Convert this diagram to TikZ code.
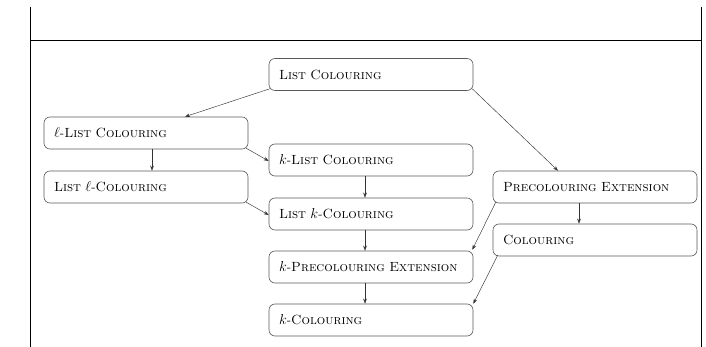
\documentclass[tikz,border=0pt]{standalone}
\usepackage{amsmath,amssymb}
\usepackage{fontspec}
\usepackage{tikz}
\usetikzlibrary{positioning,arrows.meta}

\tikzset{
  prob/.style={draw=black!65,line width=0.6pt,rounded corners=6pt,
    minimum height=32pt,text width=184pt,inner xsep=10pt,align=left,
    font=\fontsize{13.3}{15}\selectfont},
  arr/.style={-{Stealth[length=5pt,width=3.6pt]},draw=black!80,line width=0.45pt}
}

\begin{document}
\begin{tikzpicture}[x=1pt,y=-1pt]
  \useasboundingbox (0,0) rectangle (706,347);
  % frame
  \draw[line width=0.9pt] (30.7,7) -- (30.7,347);
  \draw[line width=0.9pt] (701,7) -- (701,347);
  \draw[line width=0.9pt] (30.7,40.7) -- (701,40.7);
  % problems
  \node[prob] (lc)     at (371,74.5) {\textsc{List Colouring}};
  \node[prob] (ell)    at (146,133)  {$\ell$-\textsc{List Colouring}};
  \node[prob] (listl)  at (146,187)  {\textsc{List} $\ell$-\textsc{Colouring}};
  \node[prob] (klc)    at (371,160)  {$k$-\textsc{List Colouring}};
  \node[prob] (listk)  at (371,214)  {\textsc{List} $k$-\textsc{Colouring}};
  \node[prob] (kpe)    at (371,267)  {\mbox{$k$-\textsc{Precolouring Extension}}};
  \node[prob] (kcol)   at (371,320)  {$k$-\textsc{Colouring}};
  \node[prob] (pe)     at (595,187)  {\textsc{Precolouring Extension}};
  \node[prob] (col)    at (595,240)  {\textsc{Colouring}};
  % reductions
  \draw[arr] ([xshift=1pt,yshift=2pt]lc.south west) -- ([xshift=39pt]ell.north);
  \draw[arr] ([xshift=-1pt,yshift=2pt]lc.south east) -- ([xshift=-37pt]pe.north);
  \draw[arr] ([xshift=6pt]ell.south) -- ([xshift=6pt]listl.north);
  \draw[arr] ([xshift=-2pt,yshift=1pt]ell.south east) -- ([yshift=-1pt]klc.west);
  \draw[arr] ([xshift=-2pt,yshift=1pt]listl.south east) -- ([yshift=-1pt]listk.west);
  \draw[arr] ([xshift=-6pt]klc.south) -- ([xshift=-6pt]listk.north);
  \draw[arr] ([xshift=-6pt]listk.south) -- ([xshift=-6pt]kpe.north);
  \draw[arr] ([xshift=-6pt]kpe.south) -- ([xshift=-6pt]kcol.north);
  \draw[arr] ([xshift=-16pt]pe.south) -- ([xshift=-16pt]col.north);
  \draw[arr] ([xshift=3pt,yshift=1pt]pe.south west) -- ([xshift=-1pt,yshift=1pt]kpe.north east);
  \draw[arr] ([xshift=5pt,yshift=1pt]col.south west) -- ([xshift=0pt,yshift=0pt]kcol.north east);
\end{tikzpicture}
\end{document}
